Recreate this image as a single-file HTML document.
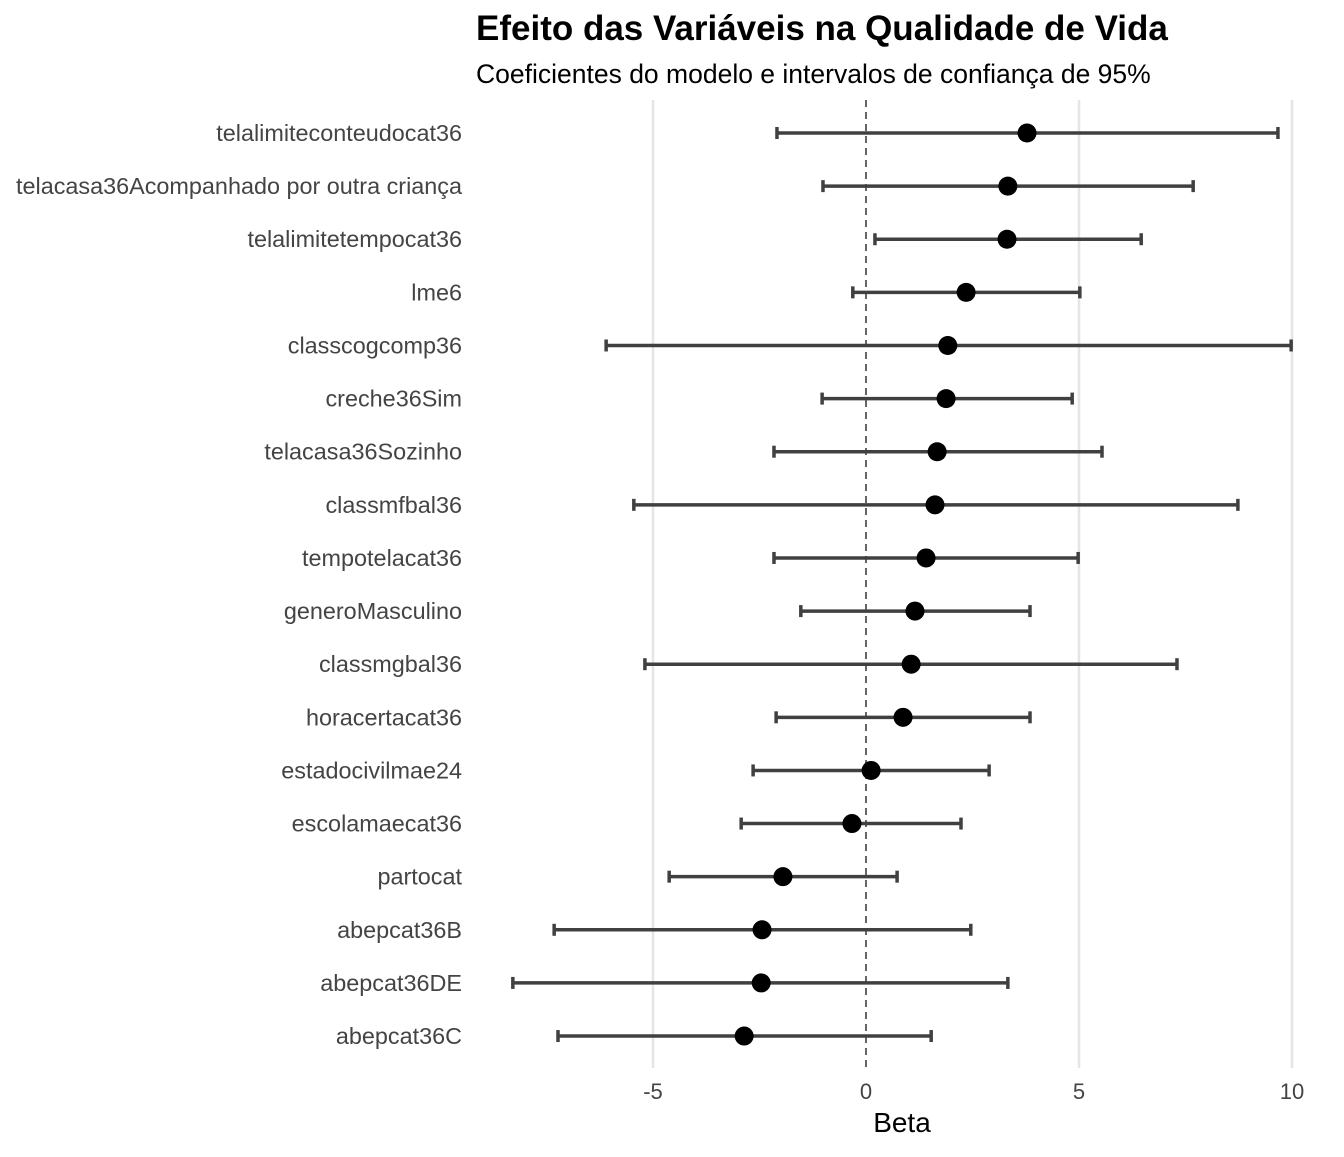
<!DOCTYPE html>
<html><head><meta charset="utf-8"><style>
body{margin:0;background:#fff;}
svg text{font-family:"Liberation Sans",Arial,sans-serif;}
</style></head><body>
<svg id="chart" width="1344" height="1152" xmlns="http://www.w3.org/2000/svg">
<text x="476" y="40" font-size="35" font-weight="bold" fill="#000">Efeito das Variáveis na Qualidade de Vida</text>
<text x="476" y="83" font-size="26.5" fill="#000">Coeficientes do modelo e intervalos de confiança de 95%</text>
<g id="grid"></g><g id="marks"></g><g id="labels"></g>
<text x="902" y="1132" font-size="28" text-anchor="middle" fill="#000">Beta</text>
</svg>
<script>
const categories=["telalimiteconteudocat36","telacasa36Acompanhado por outra criança","telalimitetempocat36","lme6","classcogcomp36","creche36Sim","telacasa36Sozinho","classmfbal36","tempotelacat36","generoMasculino","classmgbal36","horacertacat36","estadocivilmae24","escolamaecat36","partocat","abepcat36B","abepcat36DE","abepcat36C"];
const estimates=[3.78,3.33,3.31,2.35,1.92,1.88,1.67,1.62,1.41,1.15,1.06,0.87,0.12,-0.33,-1.95,-2.44,-2.46,-2.86];
const lower=[-2.09,-1.01,0.21,-0.31,-6.10,-1.03,-2.16,-5.45,-2.16,-1.53,-5.19,-2.11,-2.65,-2.93,-4.62,-7.32,-8.29,-7.23];
const upper=[9.67,7.68,6.46,5.02,9.98,4.84,5.54,8.73,4.98,3.85,7.30,3.85,2.89,2.23,0.73,2.46,3.33,1.53];
const ticks=[-5,0,5,10];
const tickLabels=["-5","0","5","10"];
const NS="http://www.w3.org/2000/svg";
const xs=v=>866+v*42.6;
const ys=i=>133+i*53.12;
function mk(tag,attrs,parent){const e=document.createElementNS(NS,tag);for(const k in attrs)e.setAttribute(k,attrs[k]);document.getElementById(parent).appendChild(e);return e;}
ticks.forEach((t,i)=>{
  const g=mk("line",{x1:xs(t),x2:xs(t),y1:100,y2:1068,stroke:t===0?"#666":"#e5e5e5","stroke-width":t===0?2:2.5,"stroke-dasharray":t===0?"7,5":"none"},"grid");
  
  
  const tx=mk("text",{x:xs(t),y:1099,"font-size":22,"text-anchor":"middle",fill:"#444"},"labels");
  tx.textContent=tickLabels[i];
  
  
});
categories.forEach((c,i)=>{
  const y=ys(i);
  const ln=mk("line",{x1:xs(lower[i]),x2:xs(upper[i]),y1:y,y2:y,stroke:"#404040","stroke-width":3.5},"marks");
  
  
  [lower[i],upper[i]].forEach(v=>{
    const cap=mk("line",{x1:xs(v),x2:xs(v),y1:y-6,y2:y+6,stroke:"#404040","stroke-width":3.5},"marks");
    
    
  });
  const pt=mk("circle",{cx:xs(estimates[i]),cy:y,r:9.5,fill:"#000"},"marks");
  
  
  const lb=mk("text",{x:462,y:y+8,"font-size":23.4,"text-anchor":"end",fill:"#444"},"labels");
  lb.textContent=c;
  
  
});
</script>
</body></html>
